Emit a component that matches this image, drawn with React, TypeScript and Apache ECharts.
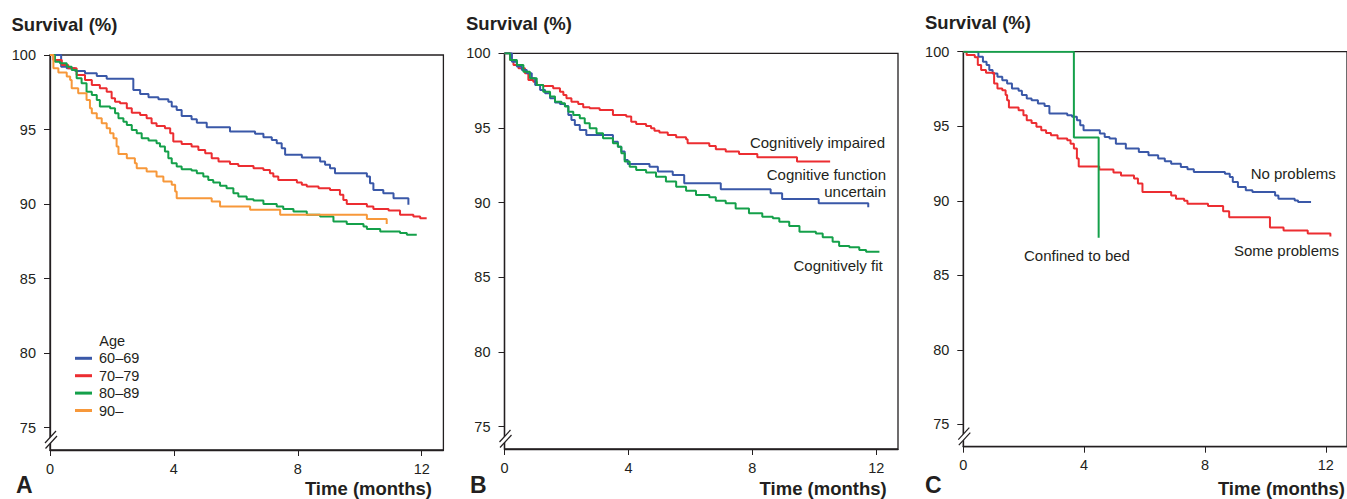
import React, { useEffect, useRef } from "react";
import * as echarts from "echarts";

const W = 1347;
const H = 499;
const FONT = "'Liberation Sans', Arial, Helvetica, sans-serif";
const INK = "#231f20";

// axis ticks
const xTickValues = [0, 4, 8, 12];
const yTickValues = [75, 80, 85, 90, 95, 100];
const X_MAX = 12.7;
const Y_MIN = 73.5;
const Y_MAX = 100;

// Panel A: age groups  [month, survival %]
const age6069 = [[0,100],[0.36,99.22],[0.54,99.11],[0.81,98.93],[1.13,98.77],[1.51,98.59],[1.83,98.41],[2.69,97.65],[2.91,97.39],[3.18,97.16],[3.5,97.03],[3.82,96.87],[3.93,96.54],[4.09,96.31],[4.25,95.91],[4.57,95.69],[4.74,95.46],[5.06,95.15],[5.81,94.86],[6.62,94.71],[6.89,94.48],[7.16,94.3],[7.32,94.08],[7.48,93.74],[7.59,93.3],[8.13,93.12],[8.72,92.85],[8.88,92.63],[9.04,92.4],[9.2,92.07],[10.23,91.85],[10.33,91.4],[10.44,90.95],[10.76,90.73],[11.09,90.39],[11.57,89.95]];
const age7079 = [[0,100],[0.11,99.66],[0.38,99.33],[0.59,99.11],[0.86,98.66],[1.13,98.32],[1.35,97.99],[1.61,97.77],[1.83,97.54],[1.99,97.1],[2.1,96.87],[2.26,96.76],[2.48,96.43],[2.64,96.13],[2.91,95.98],[3.12,95.76],[3.28,95.42],[3.44,95.24],[3.71,95.09],[3.88,94.75],[3.98,94.19],[4.25,94.03],[4.57,93.86],[4.79,93.63],[5.01,93.41],[5.22,93.07],[5.44,92.85],[5.81,92.69],[6.08,92.56],[6.57,92.4],[6.89,92.29],[7.1,92.07],[7.21,91.85],[7.37,91.62],[7.97,91.44],[8.13,91.29],[8.29,91.18],[8.67,91.06],[9.04,90.95],[9.36,90.62],[9.47,90.28],[9.58,90.01],[10.23,89.83],[10.44,89.66],[10.93,89.57],[11.3,89.28],[11.73,89.16],[11.95,89.05],[12.16,89.05]];
const age8089 = [[0,100],[0.16,99.55],[0.32,99.44],[0.54,99.22],[0.7,98.99],[0.86,98.44],[1.02,98.1],[1.18,97.54],[1.35,97.32],[1.51,96.98],[1.61,96.54],[1.94,96.43],[2.1,96.09],[2.21,95.76],[2.37,95.53],[2.48,95.31],[2.64,94.97],[2.8,94.75],[2.96,94.41],[3.18,94.26],[3.44,94.08],[3.55,93.86],[3.71,93.52],[3.82,93.07],[3.93,92.74],[4.09,92.52],[4.25,92.34],[4.57,92.25],[4.74,92.07],[4.95,91.85],[5.11,91.62],[5.27,91.44],[5.49,91.22],[5.7,91.06],[5.92,90.73],[6.08,90.5],[6.35,90.33],[6.57,90.24],[6.89,90.01],[7.32,89.83],[7.53,89.66],[7.86,89.5],[8.29,89.28],[8.72,89.16],[9.15,88.83],[9.58,88.67],[10.12,88.49],[10.23,88.32],[10.66,88.16],[11.3,88.05],[11.52,87.94],[11.84,87.94]];
const age90 = [[0,100],[0.11,99.11],[0.27,98.82],[0.54,98.55],[0.65,98.32],[0.7,97.77],[0.91,97.43],[1.18,96.98],[1.29,96.43],[1.35,96.09],[1.51,95.76],[1.67,95.42],[1.83,95.09],[1.94,94.75],[2.05,94.41],[2.15,93.86],[2.21,93.36],[2.48,93.07],[2.74,92.74],[2.8,92.4],[3.12,92.18],[3.44,91.85],[3.66,91.51],[3.93,91.29],[4.04,90.84],[4.09,90.39],[5.22,90.17],[5.49,89.83],[6.46,89.61],[7.43,89.28],[10.23,88.99],[10.87,88.67]];

// Panel B: cognitive status
const cogImpaired = [[0,100],[0.18,99.55],[0.29,99.22],[0.45,99.0],[0.66,98.66],[0.77,98.21],[0.93,98.1],[1.04,97.88],[1.25,97.81],[1.57,97.66],[1.79,97.43],[1.9,97.21],[2.0,96.99],[2.16,96.76],[2.38,96.61],[2.54,96.38],[2.75,96.32],[3.07,96.21],[3.5,95.87],[3.93,95.76],[4.09,95.42],[4.25,95.27],[4.57,95.13],[4.73,94.98],[4.84,94.82],[5.0,94.69],[5.27,94.53],[5.54,94.38],[5.86,94.24],[5.91,93.97],[6.61,93.79],[6.82,93.57],[7.14,93.42],[7.57,93.26],[8.16,93.04],[9.44,92.75],[10.51,92.75]];
const cogUncertain = [[0,100],[0.24,99.44],[0.4,99.11],[0.56,98.88],[0.72,98.66],[0.88,98.33],[0.99,97.88],[1.15,97.54],[1.31,97.32],[1.47,96.99],[1.63,96.7],[1.79,96.61],[1.95,96.47],[2.06,95.87],[2.16,95.54],[2.27,95.2],[2.43,94.87],[2.64,94.53],[3.5,94.08],[3.66,93.75],[3.77,93.42],[3.88,92.86],[3.98,92.59],[4.68,92.41],[4.95,92.08],[5.43,91.85],[5.8,91.29],[6.98,90.89],[8.59,90.63],[8.96,90.25],[10.14,89.96],[11.74,89.69]];
const cogFit = [[0,100],[0.18,99.55],[0.4,99.22],[0.61,98.77],[0.82,98.33],[1.04,97.88],[1.25,97.43],[1.47,97.1],[1.63,96.76],[1.84,96.65],[1.95,96.43],[2.06,96.09],[2.22,95.87],[2.43,95.65],[2.59,95.31],[2.75,94.98],[2.97,94.64],[3.18,94.31],[3.5,93.97],[3.66,93.75],[3.77,93.3],[3.88,92.75],[4.04,92.41],[4.25,92.19],[4.57,92.01],[4.89,91.74],[5.21,91.41],[5.54,91.07],[5.86,90.8],[6.18,90.51],[6.61,90.36],[6.82,90.13],[7.14,89.96],[7.46,89.6],[7.89,89.29],[8.32,89.06],[8.66,88.95],[8.87,88.72],[9.19,88.43],[9.52,88.05],[10.05,87.94],[10.27,87.68],[10.59,87.38],[10.8,87.09],[11.13,87.01],[11.45,86.83],[11.67,86.71],[12.1,86.71]];

// Panel C: mobility
const noProblems = [[0,100],[0.5,99.66],[0.65,99.33],[0.77,99.1],[0.86,98.77],[0.97,98.54],[1.13,98.32],[1.29,98.09],[1.45,97.87],[1.61,97.53],[1.83,97.38],[1.94,97.09],[2.1,96.86],[2.26,96.75],[2.47,96.52],[2.69,96.35],[2.85,95.85],[3.44,95.74],[3.6,95.63],[3.76,95.4],[3.87,95.07],[3.98,94.73],[4.52,94.51],[4.68,94.28],[4.84,94.17],[5.05,93.83],[5.38,93.5],[5.81,93.27],[6.13,93.05],[6.45,92.83],[6.67,92.65],[6.88,92.49],[7.2,92.26],[7.42,92.11],[7.63,91.93],[8.66,91.82],[8.82,91.59],[8.92,91.26],[9.09,90.92],[9.35,90.7],[9.57,90.58],[10.32,90.36],[10.43,90.13],[10.97,90.02],[11.08,89.91],[11.51,89.91]];
const someProblems = [[0,100],[0.11,99.78],[0.38,99.62],[0.48,99.1],[0.59,98.77],[0.75,98.59],[1.02,97.87],[1.13,97.53],[1.29,97.42],[1.4,97.09],[1.45,96.75],[1.51,96.26],[1.83,96.08],[1.99,95.74],[2.1,95.4],[2.26,95.22],[2.42,94.96],[2.58,94.73],[2.74,94.55],[2.9,94.39],[3.12,94.17],[3.44,94.06],[3.55,93.83],[3.66,93.5],[3.76,92.83],[3.82,92.3],[4.5,92.1],[4.97,91.9],[5.22,91.7],[5.65,91.5],[5.78,91.15],[5.93,90.58],[6.88,90.36],[7.04,90.13],[7.31,90.0],[7.42,89.8],[8.1,89.65],[8.6,89.3],[8.8,88.9],[10.15,88.2],[10.6,88.0],[11.4,87.8],[12.15,87.6]];
const confinedBed = [[0,100],[3.66,94.24],[4.48,87.52]];

const COLORS = { blue: "#3a58a8", red: "#ec2d31", green: "#14a04a", orange: "#f7983a" };

const grids = [
  { left: 50, top: 55, width: 393.4, height: 395 },
  { left: 504.5, top: 53.3, width: 393.5, height: 395.7 },
  { left: 963.3, top: 51.7, width: 393.7, height: 395 },
];

const panels = [
  { letter: "A", series: [
    { name: "60–69", data: age6069, color: COLORS.blue },
    { name: "70–79", data: age7079, color: COLORS.red },
    { name: "80–89", data: age8089, color: COLORS.green },
    { name: "90–", data: age90, color: COLORS.orange },
  ] },
  { letter: "B", series: [
    { name: "Cognitively impaired", data: cogImpaired, color: COLORS.red },
    { name: "Cognitive function uncertain", data: cogUncertain, color: COLORS.blue },
    { name: "Cognitively fit", data: cogFit, color: COLORS.green },
  ] },
  { letter: "C", series: [
    { name: "No problems", data: noProblems, color: COLORS.blue },
    { name: "Some problems", data: someProblems, color: COLORS.red },
    { name: "Confined to bed", data: confinedBed, color: COLORS.green },
  ] },
];

function txt(text: string, x: number, y: number, size: number, align: string, weight: string = "normal") {
  return {
    type: "text",
    z: 100,
    silent: true,
    style: {
      text, x, y,
      fill: INK,
      fontSize: size,
      fontFamily: FONT,
      fontWeight: weight,
      align, textAlign: align,
      verticalAlign: "middle", textVerticalAlign: "middle",
    },
  };
}

function breakMark(ax: number, by: number) {
  return [
    { type: "polygon", z: 100, silent: true, shape: { points: [[ax - 5, by - 7], [ax + 6, by - 19], [ax + 7, by - 14], [ax - 4.5, by - 1.5]] }, style: { fill: "#ffffff" } },
    { type: "line", z: 101, silent: true, shape: { x1: ax - 5, y1: by - 7, x2: ax + 6, y2: by - 19 }, style: { stroke: INK, lineWidth: 1.2 } },
    { type: "line", z: 101, silent: true, shape: { x1: ax - 4.5, y1: by - 1.5, x2: ax + 7, y2: by - 14 }, style: { stroke: INK, lineWidth: 1.2 } },
  ];
}

export default function App() {
  const ref = useRef<HTMLDivElement>(null);
  useEffect(() => {
    if (!ref.current) return;
    const chart = echarts.init(ref.current, undefined, { renderer: "svg", width: W, height: H });

    const axisLineStyle = { color: INK, width: 1.3 };
    const xAxis = grids.map((_, i) => ({
      type: "value", gridIndex: i, min: 0, max: X_MAX,
      axisLine: { show: true, onZero: false, lineStyle: axisLineStyle },
      axisTick: { show: true, length: 6, customValues: xTickValues, lineStyle: { color: INK, width: 1 } },
      axisLabel: { customValues: xTickValues, fontSize: 14.5, color: INK, fontFamily: FONT, margin: 11 },
      splitLine: { show: false },
    }));
    const yAxis = grids.map((_, i) => ({
      type: "value", gridIndex: i, min: Y_MIN, max: Y_MAX,
      axisLine: { show: true, onZero: false, lineStyle: axisLineStyle },
      axisTick: { show: true, length: 6, customValues: yTickValues, lineStyle: { color: INK, width: 1 } },
      axisLabel: { customValues: yTickValues, fontSize: 14.5, color: INK, fontFamily: FONT, margin: 14 },
      splitLine: { show: false },
    }));

    const series: any[] = [];
    panels.forEach((p, i) => {
      p.series.forEach((s) => {
        series.push({
          name: s.name, type: "line", xAxisIndex: i, yAxisIndex: i,
          step: "end", symbol: "none", showSymbol: false, silent: true,
          data: s.data,
          lineStyle: { color: s.color, width: 2 },
          itemStyle: { color: s.color },
        });
      });
    });

    const graphics: any[] = [
      txt("Survival (%)", 11.5, 24, 18.5, "left", "bold"),
      txt("Survival (%)", 466, 23.3, 18.5, "left", "bold"),
      txt("Survival (%)", 925, 22.3, 18.5, "left", "bold"),
      txt("Time (months)", 432, 488.5, 18.5, "right", "bold"),
      txt("Time (months)", 886.7, 488.5, 18.5, "right", "bold"),
      txt("Time (months)", 1345, 488.5, 18.5, "right", "bold"),
      txt("A", 16, 485, 23, "left", "bold"),
      txt("B", 470, 485, 23, "left", "bold"),
      txt("C", 925, 485, 23, "left", "bold"),
      txt("Age", 99.3, 340.7, 14.5, "left"),
      txt("Cognitively impaired", 885, 142.7, 15, "right"),
      txt("Cognitive function", 886, 174, 15, "right"),
      txt("uncertain", 886, 191.7, 15, "right"),
      txt("Cognitively fit", 882.7, 265.7, 15, "right"),
      txt("No problems", 1250.7, 173.3, 15, "left"),
      txt("Some problems", 1234, 250.7, 15, "left"),
      txt("Confined to bed", 1024, 255, 15, "left"),
      ...breakMark(50, 450),
      ...breakMark(504.5, 449),
      ...breakMark(963.3, 446.7),
    ];

    chart.setOption({
      animation: false,
      backgroundColor: "#ffffff",
      textStyle: { fontFamily: FONT },
      grid: grids.map((g) => ({ ...g, show: true, borderColor: INK, borderWidth: 1.3, backgroundColor: "transparent" })),
      xAxis, yAxis, series,
      legend: {
        data: ["60–69", "70–79", "80–89", "90–"],
        orient: "vertical", left: 75, top: 349.6, padding: 0,
        icon: "rect", itemWidth: 17, itemHeight: 3, itemGap: 0,
        selectedMode: false,
        textStyle: { fontSize: 14.5, color: INK, fontFamily: FONT, lineHeight: 17.4, padding: [0, 0, 0, 2] },
      },
      graphic: graphics,
    });
    return () => chart.dispose();
  }, []);
  return <div ref={ref} style={{ position: "fixed", left: 0, top: 0, width: W, height: H, background: "#fff" }} />;
}
